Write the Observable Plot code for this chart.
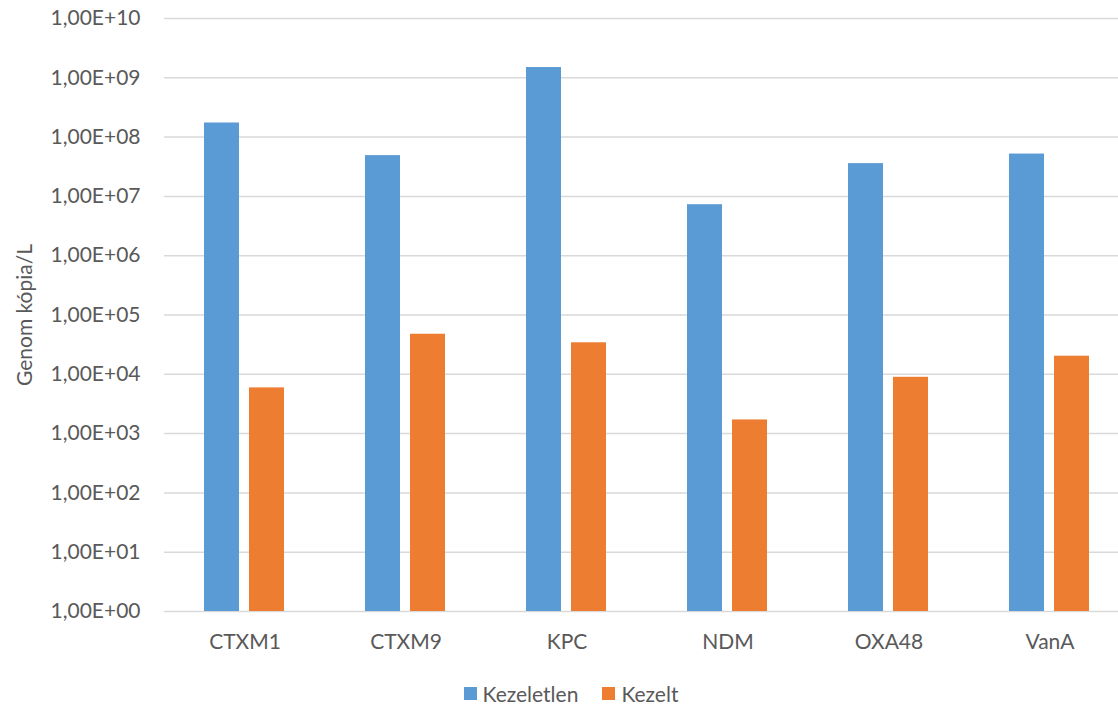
<!DOCTYPE html>
<html>
<head>
<meta charset="utf-8">
<script src="https://cdn.jsdelivr.net/npm/d3@7"></script>
<script src="https://cdn.jsdelivr.net/npm/@observablehq/plot@0.6"></script>
<style>
  html, body { margin: 0; background: #fff; font-family: Lato, sans-serif; overflow: hidden; }
  #chart { width: 1118px; height: 707px; overflow: hidden; }
  #chart svg { display: block; max-width: none !important; }
  .legend { width: 1118px; display: flex; justify-content: center; align-items: center; height: 37px; padding-left: 24px; padding-top: 10px; color: #595959; font-size: 21px; box-sizing: border-box; }
  .legend .item { display: flex; align-items: center; margin: 0 12px; }
  .legend .sw { width: 13px; height: 13px; margin-right: 6px; }
</style>
</head>
<body>
<div id="chart"></div>
<script>
const categories = ["CTXM1", "CTXM9", "KPC", "NDM", "OXA48", "VanA"];
const seriesNames = ["Kezeletlen", "Kezelt"];
const kezeletlen = [1.73e8, 4.87e7, 1.49e9, 7.25e6, 3.57e7, 5.18e7];
const kezelt = [5.9e3, 4.74e4, 3.4e4, 1.7e3, 8.9e3, 2.02e4];
const seriesColors = ["#5B9BD5", "#ED7D31"];
const yTicks = [1, 10, 100, 1e3, 1e4, 1e5, 1e6, 1e7, 1e8, 1e9, 1e10];
const yTickLabels = ["1,00E+00", "1,00E+01", "1,00E+02", "1,00E+03", "1,00E+04", "1,00E+05",
                     "1,00E+06", "1,00E+07", "1,00E+08", "1,00E+09", "1,00E+10"];
const yLabel = "Genom kópia/L";

const seriesValues = [kezeletlen, kezelt];
const data = categories.flatMap((c, i) =>
  seriesNames.map((s, j) => ({cat: c, series: s, value: seriesValues[j][i]})));

const plot = Plot.plot({
  width: 1130,
  height: 670,
  marginTop: 18,
  marginBottom: 59,
  marginLeft: 163,
  marginRight: 0,
  style: {fontFamily: "Lato, sans-serif", fontSize: "21px", color: "#595959", background: "#fff", maxWidth: "none"},
  fx: {domain: categories, padding: 0, label: null},
  x: {domain: seriesNames, paddingInner: 0.217, paddingOuter: 0.861, axis: null},
  y: {type: "log", domain: [1, 1e10], axis: null},
  color: {domain: seriesNames, range: seriesColors},
  marks: [
    Plot.gridY(yTicks, {stroke: "#d9d9d9", strokeOpacity: 1, strokeWidth: 1.5}),
    Plot.barY(data, {fx: "cat", x: "series", y1: 1, y2: "value", fill: "series"}),
    Plot.axisFx({anchor: "bottom", tickSize: 0, tickPadding: 23, fontSize: 21, label: null, fill: "#595959"}),
    Plot.axisY(yTicks, {
      tickSize: 0, tickPadding: 24, fontSize: 21, fill: "#595959",
      tickFormat: d => yTickLabels[yTicks.indexOf(d)],
      label: yLabel, labelAnchor: "center", labelOffset: 147, labelArrow: "none"
    })
  ]
});

const chart = document.getElementById("chart");
chart.appendChild(plot);

const legend = document.createElement("div");
legend.className = "legend";
seriesNames.forEach((s, j) => {
  const item = document.createElement("div");
  item.className = "item";
  const sw = document.createElement("span");
  sw.className = "sw";
  sw.style.background = seriesColors[j];
  const t = document.createElement("span");
  t.textContent = s;
  item.appendChild(sw);
  item.appendChild(t);
  legend.appendChild(item);
});
chart.appendChild(legend);
</script>
</body>
</html>
